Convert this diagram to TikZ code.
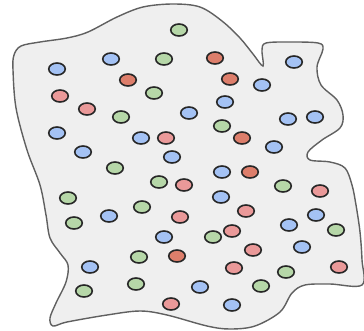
\documentclass[tikz,border=0pt]{standalone}
\usetikzlibrary{shapes.geometric}
\definecolor{blobfill}{HTML}{EFEFEF}
\definecolor{blobline}{HTML}{606060}
\definecolor{dotblue}{HTML}{A4C2F4}
\definecolor{dotred}{HTML}{EA9999}
\definecolor{dotgreen}{HTML}{B6D7A8}
\definecolor{dotdark}{HTML}{DD7E6B}
\begin{document}
\begin{tikzpicture}[x=1pt,y=-1pt,
    dot/.style={ellipse,draw=black!85,line width=1.6pt,minimum width=16.5pt,minimum height=12pt,inner sep=0pt},
    bluedot/.style={dot,fill=dotblue},
    reddot/.style={dot,fill=dotred},
    greendot/.style={dot,fill=dotgreen},
    darkdot/.style={dot,fill=dotdark}]
    \useasboundingbox (0,0) rectangle (364,330);
    % the blob
    \draw[blobline,fill=blobfill,line width=1.4pt] plot[smooth cycle,tension=0.55] coordinates {
        (21,46) (40,42) (67,38) (88,32) (117,17) (143,7) (173,4) (200,7) (222,21)
        (240,38) (253,54) (263,66) (262,50) (266,43) (290,42) (318,43) (323,49)
        (317,67) (321,85) (337,100) (343,115) (340,128) (322,140) (308,152) (310,160)
        (330,162) (345,168) (352,185) (356,205) (360,232) (362,260) (362,285)
        (330,284) (305,285) (292,293) (280,312) (255,326) (230,329) (207,326)
        (167,315) (140,311) (107,315) (67,322) (53,326) (50,318) (56,303) (66,282)
        (68,265) (60,253) (50,238) (46,215) (40,185) (27,150) (16,108) (13,70) (14,55)};
    % the dots
    \foreach \x/\y [count=\i] in {57/69,111/59,57/133,141/138,83/152,172/157,294/62,262/85,
        225/102,189/113,288/119,315/117,274/147,222/172,221/197,109/216,164/237,316/215,
        289/225,302/247,200/287,232/305,90/267}
        \node[bluedot] (b\i) at (\x,\y) {};
    \foreach \x/\y [count=\i] in {60/96,87/109,166/138,184/185,246/211,180/217,232/231,
        253/250,234/268,339/267,320/191,171/304}
        \node[reddot] (r\i) at (\x,\y) {};
    \foreach \x/\y [count=\i] in {179/30,164/59,154/93,121/117,115/168,222/126,159/182,
        283/186,142/207,213/237,336/230,286/272,261/286,68/198,74/223,139/257,136/284,84/291}
        \node[greendot] (g\i) at (\x,\y) {};
    \foreach \x/\y [count=\i] in {128/80,215/58,230/79,242/138,250/172,177/256}
        \node[darkdot] (d\i) at (\x,\y) {};
\end{tikzpicture}
\end{document}
